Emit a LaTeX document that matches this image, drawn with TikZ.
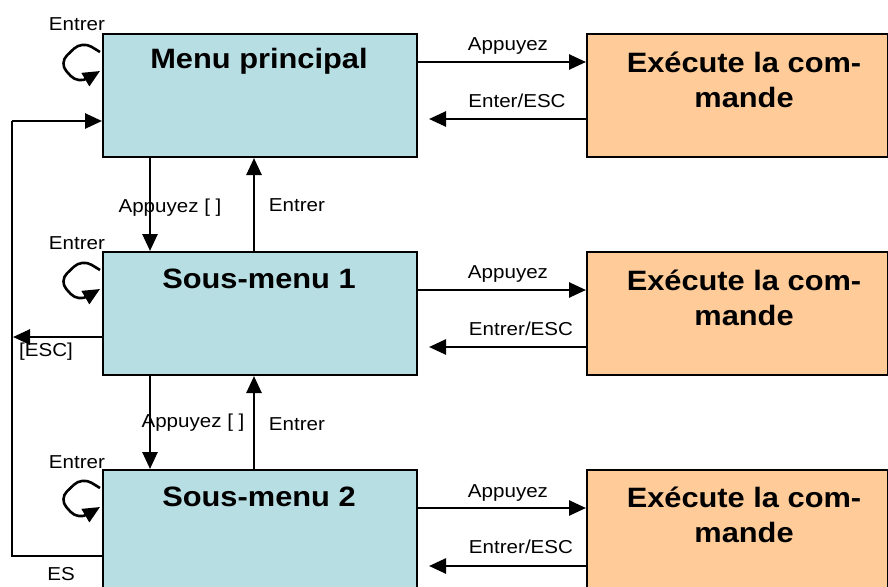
\documentclass[tikz,border=0pt]{standalone}
\usepackage{fontspec}
\setmainfont{Liberation Sans}[FakeStretch=1.1]
\usetikzlibrary{arrows.meta,calc}
\definecolor{menublue}{RGB}{183,222,226}
\definecolor{cmdorange}{RGB}{255,204,153}
\begin{document}
\begin{tikzpicture}[x=1pt,y=-1pt,
  menubox/.style={draw=black,line width=2pt,fill=menublue,rectangle,minimum width=314pt,minimum height=123pt,inner sep=0pt,anchor=north west},
  cmdbox/.style={draw=black,line width=2pt,fill=cmdorange,rectangle,minimum width=301pt,minimum height=123pt,inner sep=0pt,anchor=north west},
  title/.style={font=\bfseries\fontsize{28}{34}\selectfont,inner sep=0pt,anchor=base},
  lbl/.style={font=\fontsize{18.7}{22}\selectfont,inner sep=0pt,anchor=base},
  arr/.style={line width=2.6pt,-{Triangle[length=17pt,width=15pt]}},
  ln/.style={line width=2.6pt}]
\useasboundingbox (0,0) rectangle (888,586);
\clip (0,0) rectangle (888,586);
% boxes
\node[menubox] (m1) at (102,33) {};
\node[menubox] (m2) at (102,251) {};
\node[menubox,minimum height=140pt] (m3) at (102,469) {};
\node[cmdbox] (c1) at (586,33) {};
\node[cmdbox] (c2) at (586,251) {};
\node[cmdbox,minimum height=140pt] (c3) at (586,469) {};
% titles
\node[title] (t1) at (259,69) {Menu principal};
\node[title] (t2) at (259,288) {Sous-menu 1};
\node[title] (t3) at (259,506) {Sous-menu 2};
\foreach \i/\b in {1/72,2/290,3/507}{
  \node[title] (e\i) at (744,\b) {Exécute la com-};
  \node[title] (f\i) at (744,\b+35) {mande};
}
% right arrows
\draw[arr] ($(m1.north east)+(0,29)$) -- ($(c1.north west)+(0,29)$);
\draw[arr] ($(c1.north west)+(0,86)$) -- ($(m1.north east)+(11,86)$);
\draw[arr] ($(m2.north east)+(0,39)$) -- ($(c2.north west)+(0,39)$);
\draw[arr] ($(c2.north west)+(0,96)$) -- ($(m2.north east)+(11,96)$);
\draw[arr] ($(m3.north east)+(0,39)$) -- ($(c3.north west)+(0,39)$);
\draw[arr] ($(c3.north west)+(0,97)$) -- ($(m3.north east)+(11,97)$);
\node[lbl] (la1) at (508,51) {Appuyez};
\node[lbl] (lb1) at (517,107) {Enter/ESC};
\node[lbl] (la2) at (508,278) {Appuyez};
\node[lbl] (lb2) at (521,335) {Entrer/ESC};
\node[lbl] (la3) at (508,497) {Appuyez};
\node[lbl] (lb3) at (521,553) {Entrer/ESC};
% vertical arrows
\draw[arr] (m1.south -| 150,0) -- (m2.north -| 150,0);
\draw[arr] (m2.north -| 254,0) -- (m1.south -| 254,0);
\draw[arr] (m2.south -| 150,0) -- (m3.north -| 150,0);
\draw[arr] (m3.north -| 254,0) -- (m2.south -| 254,0);
\node[lbl] (v1) at (170,212) {Appuyez [ ]};
\node[lbl] (w1) at (297,211) {Entrer};
\node[lbl] (v2) at (193,427) {Appuyez [ ]};
\node[lbl] (w2) at (297,430) {Entrer};
% self loops
\foreach \m in {m1,m2,m3}{
  \draw[arr,rounded corners=11pt] ($(\m.north west)+(-2,19)$) -- ($(\m.north west)+(-20,8)$)
     -- ($(\m.north west)+(-43,30)$) -- ($(\m.north west)+(-24,51)$) -- ($(\m.north west)+(-2,38)$);
}
\node[lbl] (s1) at (77,31) {Entrer};
\node[lbl] (s2) at (77,249) {Entrer};
\node[lbl] (s3) at (77,468) {Entrer};
% left feedback
\coordinate (cl) at (12,556);
\coordinate (ct) at (12,121);
\draw[ln] (m3.west |- 0,556) -- (cl) -- (ct);
\draw[arr] (ct) -- (m1.west |- 0,121);
\node[lbl] (es) at (61,580) {ES};
\coordinate (escend) at (13,337);
\draw[arr] (m2.west |- 0,337) -- (escend);
\node[lbl] (esc) at (46,356) {[ESC]};
\end{tikzpicture}
\end{document}
